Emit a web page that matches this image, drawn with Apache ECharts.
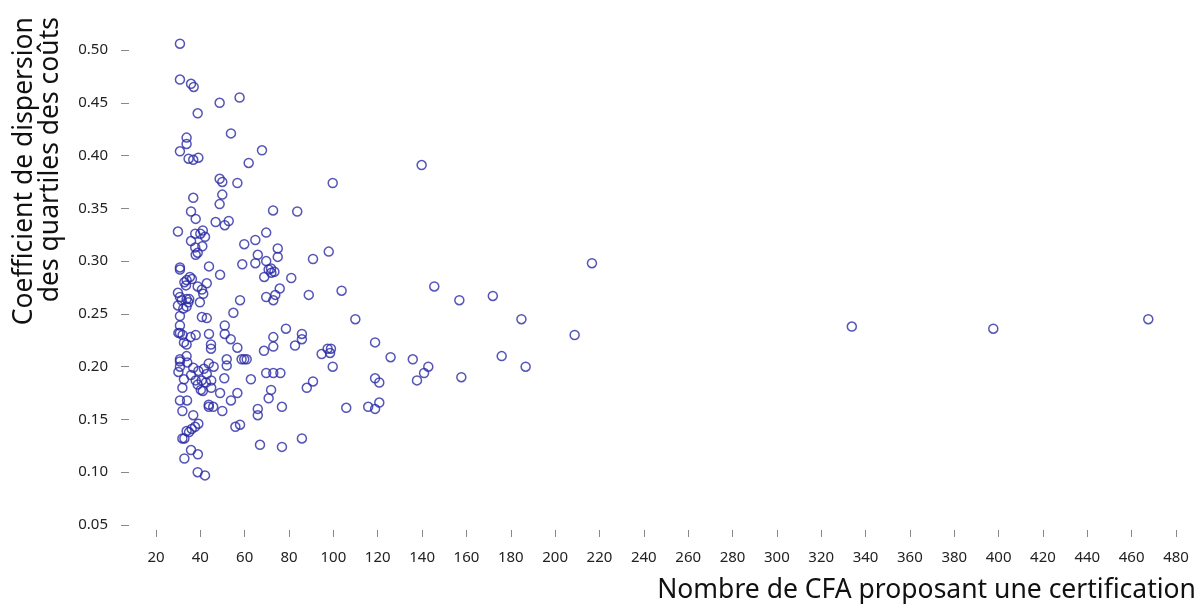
<!DOCTYPE html>
<html>
<head>
<meta charset="utf-8">
<script src="https://cdn.jsdelivr.net/npm/echarts@6/dist/echarts.min.js"></script>
<style>
html,body{margin:0;padding:0;background:#fff;}
#chart{width:1200px;height:604px;}
</style>
</head>
<body>
<div id="chart"></div>
<script>
// Nombre de CFA proposant une certification
const cfaCounts = [
30.8,30.8,35.8,37.0,48.7,57.7,38.8,53.8,33.8,33.8,30.8,67.8,34.7,36.8,39.1,61.8,48.7,49.9,56.7,36.8,
49.9,48.7,72.8,35.8,37.9,46.9,52.8,51.0,29.9,37.7,40.0,41.1,42.1,35.8,37.7,40.9,38.8,37.9,59.8,64.8,
69.7,74.9,74.9,65.9,64.8,58.9,69.7,30.8,30.8,43.9,48.9,70.8,71.9,73.4,72.0,68.8,81.0,35.3,33.8,32.8,
33.5,36.2,38.8,40.7,42.9,41.3,75.8,69.7,73.8,72.9,29.9,30.8,31.6,33.8,35.0,34.6,29.9,32.3,33.8,39.8,
57.9,54.9,30.8,40.7,42.9,30.8,51.0,30.1,30.8,32.0,43.9,51.0,53.7,35.6,37.9,32.6,33.8,44.8,44.8,56.7,
72.9,72.9,78.6,68.7,33.8,30.8,30.8,34.1,51.9,51.9,58.6,59.8,60.9,30.1,30.8,36.8,32.6,35.8,39.1,41.6,
43.8,46.0,42.9,37.9,40.6,42.5,44.9,38.8,40.2,41.1,44.9,31.9,50.8,48.9,56.7,53.8,62.8,69.7,72.9,76.1,
71.9,70.8,76.8,30.8,34.0,31.9,43.8,43.8,45.8,49.9,36.8,65.9,65.9,39.1,37.6,36.1,34.9,33.8,31.9,32.8,
55.8,57.9,66.9,76.8,35.8,38.9,32.8,38.8,42.1,139.8,99.7,83.7,97.9,90.8,88.9,103.7,109.9,145.5,85.8,85.8,
82.7,94.7,97.4,98.9,98.5,99.7,118.8,125.8,135.8,142.8,140.9,137.7,118.8,120.7,90.8,88.0,105.8,115.7,118.8,120.7,
85.8,156.8,171.9,184.8,208.8,175.9,186.7,157.7,216.6,333.8,397.6,467.5
];
// Coefficient de dispersion des quartiles des coûts
const dispersion = [
0.506,0.472,0.468,0.465,0.450,0.455,0.440,0.421,0.417,0.411,0.404,0.405,0.397,0.396,0.398,0.393,0.378,0.375,0.374,0.360,
0.363,0.354,0.348,0.347,0.340,0.337,0.338,0.334,0.328,0.326,0.326,0.329,0.323,0.319,0.313,0.314,0.308,0.306,0.316,0.320,
0.327,0.312,0.304,0.306,0.298,0.297,0.300,0.294,0.292,0.295,0.287,0.292,0.293,0.290,0.289,0.285,0.284,0.285,0.282,0.280,
0.277,0.283,0.276,0.273,0.279,0.269,0.274,0.266,0.268,0.263,0.270,0.266,0.263,0.264,0.264,0.261,0.258,0.255,0.257,0.261,
0.263,0.251,0.248,0.247,0.246,0.239,0.239,0.232,0.232,0.230,0.231,0.231,0.226,0.228,0.230,0.223,0.221,0.221,0.217,0.218,
0.228,0.219,0.236,0.215,0.210,0.207,0.205,0.204,0.207,0.201,0.207,0.207,0.207,0.195,0.200,0.199,0.188,0.192,0.196,0.198,
0.203,0.200,0.193,0.187,0.187,0.185,0.187,0.183,0.178,0.177,0.180,0.180,0.189,0.175,0.175,0.168,0.188,0.194,0.194,0.194,
0.178,0.170,0.162,0.168,0.168,0.158,0.164,0.162,0.162,0.158,0.154,0.160,0.154,0.146,0.143,0.141,0.138,0.139,0.132,0.132,
0.143,0.145,0.126,0.124,0.121,0.117,0.113,0.100,0.097,0.391,0.374,0.347,0.309,0.302,0.268,0.272,0.245,0.276,0.231,0.226,
0.220,0.212,0.217,0.217,0.213,0.200,0.223,0.209,0.207,0.200,0.194,0.187,0.189,0.185,0.186,0.180,0.161,0.162,0.160,0.166,
0.132,0.263,0.267,0.245,0.230,0.210,0.200,0.190,0.298,0.238,0.236,0.245
];
const xTitle = 'Nombre de CFA proposant une certification';
const yTitle = 'Coefficient de dispersion\ndes quartiles des coûts';

const points = cfaCounts.map((x, i) => [x, dispersion[i]]);
const FONT = 'Noto Sans';
const chart = echarts.init(document.getElementById('chart'));
chart.setOption({
  backgroundColor: '#ffffff',
  animation: false,
  grid: { left: 156, right: 24, top: 50, bottom: 79 },
  xAxis: {
    type: 'value', min: 20, max: 480, interval: 20, offset: 5,
    axisLine: { show: false },
    axisTick: { show: true, length: 7, lineStyle: { color: '#888', width: 1 } },
    splitLine: { show: false },
    axisLabel: { fontSize: 15, color: '#222', margin: 20, fontFamily: FONT }
  },
  yAxis: {
    type: 'value', min: 0.05, max: 0.50, interval: 0.05, offset: 27,
    axisLine: { show: false },
    axisTick: { show: true, length: 8, lineStyle: { color: '#888', width: 1 } },
    splitLine: { show: false },
    axisLabel: { fontSize: 15, color: '#222', margin: 21, fontFamily: FONT,
      formatter: v => v.toFixed(2) }
  },
  graphic: [
    { type: 'text', x: 1196, y: 590,
      style: { text: xTitle, fontSize: 26.5, fill: '#111', fontFamily: FONT,
        align: 'right', verticalAlign: 'middle' } },
    { type: 'text', x: 37, y: 17, rotation: Math.PI / 2,
      style: { text: yTitle, fontSize: 26.5, lineHeight: 26, fill: '#111', fontFamily: FONT,
        align: 'right', verticalAlign: 'middle' } }
  ],
  series: [{
    type: 'scatter',
    data: points,
    clip: false,
    symbol: 'circle',
    symbolSize: 9,
    itemStyle: { color: 'rgba(0,0,0,0)', borderColor: '#2a2aa6', borderWidth: 1.5 }
  }]
});
</script>
</body>
</html>
